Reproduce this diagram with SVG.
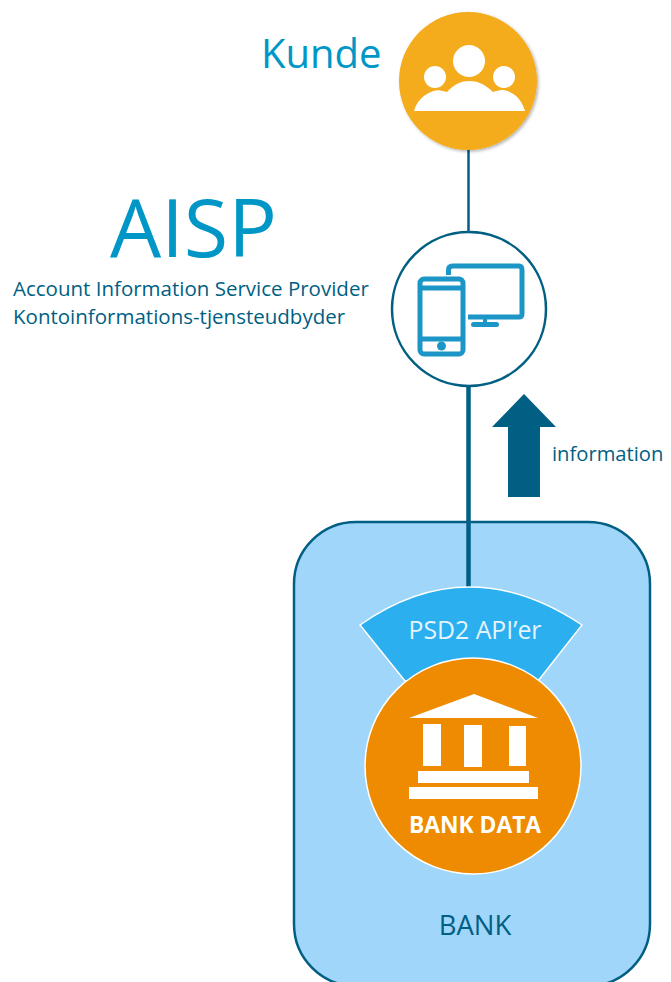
<svg xmlns="http://www.w3.org/2000/svg" width="671" height="982" viewBox="0 0 671 982">
<style>
text{font-family:"Open Sans","Noto Sans","Liberation Sans",sans-serif}
.teal{fill:#0097c7}
.dark{fill:#005f83}
.line{stroke:#005f83;fill:none}
.white{fill:#fff}
.dev{fill:none;stroke:#1b96c6;stroke-width:5}
</style>
<defs>
<filter id="sh" x="-10%" y="-10%" width="125%" height="125%"><feDropShadow dx="1.5" dy="1.5" stdDeviation="1.5" flood-color="#000" flood-opacity="0.3"/></filter>
</defs>
<rect width="671" height="982" fill="#fff"/>
<g id="bank">
<rect x="294" y="522" width="356" height="464" rx="62" fill="#a0d6f9" stroke="#005f83" stroke-width="2.500"/>
<text x="475" y="935" text-anchor="middle" font-size="27.500" class="dark">BANK</text>
</g>
<g id="connectors">
<line x1="468.500" y1="149" x2="468.500" y2="233" class="line" stroke-width="2.500"/>
<line x1="468.500" y1="386" x2="468.500" y2="588" class="line" stroke-width="4.500"/>
<polygon points="524,394 556,427 540,427 540,497 508,497 508,427 492,427" fill="#005f83"/>
</g>
<g id="kunde">
<circle cx="468" cy="81" r="69" fill="#f4ab1c" filter="url(#sh)"/>
<circle cx="469" cy="61" r="16" class="white"/>
<circle cx="435" cy="77" r="11" class="white"/>
<circle cx="504" cy="77" r="11" class="white"/>
<path d="M414,111 C418,97 430,90 441,90 C435,90 445,91 447,92 C454,84 462,81 469,81 C477,81 485,84 493,92 C495,91 502,90 501,90 C511,90 521,97 525,111 Z" class="white"/>
<text x="261" y="68" font-size="40" class="teal">Kunde</text>
</g>
<g id="aisp">
<circle cx="469" cy="309" r="77" fill="#fff" stroke="#005f83" stroke-width="2.500"/>
<path d="M448.500,275 V270 Q448.500,266 452.500,266 H519 Q522,266 522,270 V314 Q522,317 519,317 H468" class="dev"/>
<rect x="471" y="322" width="28" height="5" rx="2.500" fill="#1b96c6"/>
<rect x="483" y="316" width="4" height="8" fill="#1b96c6"/>
<rect x="420" y="279" width="43" height="75" rx="4" class="dev"/>
<line x1="420" y1="288" x2="463" y2="288" class="dev" stroke-width="4"/>
<line x1="420" y1="339" x2="463" y2="339" class="dev" stroke-width="4"/>
<circle cx="441.500" cy="346" r="4.500" fill="#1b96c6"/>
<text x="110" y="257" font-size="81" class="teal">AISP</text>
<text x="13" y="296" font-size="20.500" class="dark">Account Information Service Provider</text>
<text x="13" y="324" font-size="20.500" class="dark">Kontoinformations-tjensteudbyder</text>
</g>
<g id="information">
<text x="552" y="461" font-size="20.200" class="dark">information</text>
</g>
<g id="psd2">
<path d="M360,625 Q468,549 582,625 L538,681 H405 Z" fill="#2cafef" stroke="#fff" stroke-width="1.500"/>
<text x="475" y="639" text-anchor="middle" font-size="24.800" fill="#e4f4fd">PSD2 API’er</text>
</g>
<g id="bank-data">
<circle cx="473" cy="766" r="108" fill="#ee8b00" stroke="#fff" stroke-width="1.500"/>
<polygon points="474,694 538,718 409,718" class="white"/>
<rect x="423" y="724" width="18" height="42" class="white"/>
<rect x="464" y="725" width="18" height="42" class="white"/>
<rect x="509" y="726" width="17" height="40" class="white"/>
<rect x="418" y="771" width="111" height="12" class="white"/>
<rect x="409" y="787" width="129" height="12" class="white"/>
<text x="475" y="833" text-anchor="middle" font-size="22.800" font-weight="700" class="white">BANK DATA</text>
</g>
</svg>
